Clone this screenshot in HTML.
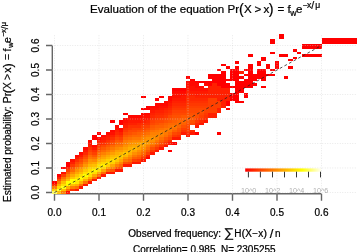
<!DOCTYPE html>
<html><head><meta charset="utf-8"><title>Evaluation of the equation</title>
<style>
html,body{margin:0;padding:0;background:#fff;}
body{width:357px;height:252px;overflow:hidden;}
svg{display:block;}
text{font-family:"Liberation Sans",sans-serif;fill:#000;stroke:#000;stroke-width:0.22px;}
.b{font-size:10px;}
.t{font-size:11.6px;}
.s{font-size:8.6px;}
.p{font-size:14.3px;}
.lg text{font-size:7.2px;fill:#b0b0b0;stroke:none;}
</style></head><body>
<svg width="357" height="252" viewBox="0 0 357 252">
<rect width="357" height="252" fill="#fff"/>
<!-- axes -->
<g stroke="#666" stroke-width="1.4" fill="none">
<path d="M54.5 193.8H321.5M54.5 193.8V200.7M99 193.8V200.7M143.5 193.8V200.7M188 193.8V200.7M232.5 193.8V200.7M277 193.8V200.7M321.5 193.8V200.7"/>
<path d="M52.3 192.5V45.5M52.3 192.5H46M52.3 168H46M52.3 143.5H46M52.3 119H46M52.3 94.5H46M52.3 70H46M52.3 45.5H46"/>
</g>
<g shape-rendering="crispEdges">
<rect x="52.27" y="191.28" width="4.45" height="2.45" fill="#FFFF55"/>
<rect x="52.27" y="188.82" width="4.45" height="2.45" fill="#FFCF00"/>
<rect x="52.27" y="186.38" width="4.45" height="2.45" fill="#FF8000"/>
<rect x="52.27" y="183.92" width="4.45" height="2.45" fill="#FF3000"/>
<rect x="52.27" y="181.47" width="4.45" height="2.45" fill="#FF0000"/>
<rect x="56.73" y="191.28" width="4.45" height="2.45" fill="#FFBF00"/>
<rect x="56.73" y="188.82" width="4.45" height="2.45" fill="#FFFF40"/>
<rect x="56.73" y="186.38" width="4.45" height="2.45" fill="#FFDF00"/>
<rect x="56.73" y="183.92" width="4.45" height="2.45" fill="#FFAF00"/>
<rect x="56.73" y="181.47" width="4.45" height="2.45" fill="#FF8000"/>
<rect x="56.73" y="179.03" width="4.45" height="2.45" fill="#FF5000"/>
<rect x="56.73" y="176.57" width="4.45" height="2.45" fill="#FF2000"/>
<rect x="56.73" y="174.12" width="4.45" height="2.45" fill="#FF0000"/>
<rect x="61.17" y="191.28" width="4.45" height="2.45" fill="#FF8000"/>
<rect x="61.17" y="188.82" width="4.45" height="2.45" fill="#FFBF00"/>
<rect x="61.17" y="186.38" width="4.45" height="2.45" fill="#FFFF15"/>
<rect x="61.17" y="183.92" width="4.45" height="2.45" fill="#FFDF00"/>
<rect x="61.17" y="181.47" width="4.45" height="2.45" fill="#FFBF00"/>
<rect x="61.17" y="179.03" width="4.45" height="2.45" fill="#FF9000"/>
<rect x="61.17" y="176.57" width="4.45" height="2.45" fill="#FF7000"/>
<rect x="61.17" y="174.12" width="4.45" height="2.45" fill="#FF4000"/>
<rect x="61.17" y="171.67" width="4.45" height="2.45" fill="#FF1000"/>
<rect x="61.17" y="166.77" width="4.45" height="2.45" fill="#FF0000"/>
<rect x="65.62" y="191.28" width="4.45" height="2.45" fill="#FF1000"/>
<rect x="65.62" y="188.82" width="4.45" height="2.45" fill="#FF7000"/>
<rect x="65.62" y="186.38" width="4.45" height="2.45" fill="#FFAF00"/>
<rect x="65.62" y="181.47" width="4.45" height="4.9" fill="#FFFF00"/>
<rect x="65.62" y="179.03" width="4.45" height="2.45" fill="#FFBF00"/>
<rect x="65.62" y="176.57" width="4.45" height="2.45" fill="#FF9F00"/>
<rect x="65.62" y="174.12" width="4.45" height="2.45" fill="#FF8000"/>
<rect x="65.62" y="171.67" width="4.45" height="2.45" fill="#FF6000"/>
<rect x="65.62" y="169.22" width="4.45" height="2.45" fill="#FF4000"/>
<rect x="65.62" y="166.77" width="4.45" height="2.45" fill="#FF2000"/>
<rect x="65.62" y="161.88" width="4.45" height="4.9" fill="#FF0000"/>
<rect x="70.08" y="188.82" width="4.45" height="2.45" fill="#FF3000"/>
<rect x="70.08" y="186.38" width="4.45" height="2.45" fill="#FF8000"/>
<rect x="70.08" y="183.92" width="4.45" height="2.45" fill="#FFBF00"/>
<rect x="70.08" y="179.03" width="4.45" height="4.9" fill="#FFFF00"/>
<rect x="70.08" y="176.57" width="4.45" height="2.45" fill="#FFC700"/>
<rect x="70.08" y="174.12" width="4.45" height="2.45" fill="#FFA700"/>
<rect x="70.08" y="171.67" width="4.45" height="2.45" fill="#FF8800"/>
<rect x="70.08" y="169.22" width="4.45" height="2.45" fill="#FF6800"/>
<rect x="70.08" y="166.77" width="4.45" height="2.45" fill="#FF5000"/>
<rect x="70.08" y="164.32" width="4.45" height="2.45" fill="#FF3800"/>
<rect x="70.08" y="161.88" width="4.45" height="2.45" fill="#FF2000"/>
<rect x="70.08" y="159.42" width="4.45" height="2.45" fill="#FF1000"/>
<rect x="74.53" y="188.82" width="4.45" height="2.45" fill="#FF1800"/>
<rect x="74.53" y="186.38" width="4.45" height="2.45" fill="#FF7000"/>
<rect x="74.53" y="183.92" width="4.45" height="2.45" fill="#FFAF00"/>
<rect x="74.53" y="181.47" width="4.45" height="2.45" fill="#FFE700"/>
<rect x="74.53" y="179.03" width="4.45" height="2.45" fill="#FFFF00"/>
<rect x="74.53" y="176.57" width="4.45" height="2.45" fill="#FFDF00"/>
<rect x="74.53" y="174.12" width="4.45" height="2.45" fill="#FFC700"/>
<rect x="74.53" y="171.67" width="4.45" height="2.45" fill="#FFA700"/>
<rect x="74.53" y="169.22" width="4.45" height="2.45" fill="#FF9000"/>
<rect x="74.53" y="166.77" width="4.45" height="2.45" fill="#FF7800"/>
<rect x="74.53" y="164.32" width="4.45" height="2.45" fill="#FF5800"/>
<rect x="74.53" y="161.88" width="4.45" height="2.45" fill="#FF4800"/>
<rect x="74.53" y="159.42" width="4.45" height="2.45" fill="#FF3000"/>
<rect x="74.53" y="156.97" width="4.45" height="2.45" fill="#FF1800"/>
<rect x="74.53" y="154.52" width="4.45" height="2.45" fill="#FF0800"/>
<rect x="78.97" y="186.38" width="4.45" height="2.45" fill="#FF1800"/>
<rect x="78.97" y="183.92" width="4.45" height="2.45" fill="#FF7000"/>
<rect x="78.97" y="181.47" width="4.45" height="2.45" fill="#FFAF00"/>
<rect x="78.97" y="179.03" width="4.45" height="2.45" fill="#FFE700"/>
<rect x="78.97" y="176.57" width="4.45" height="2.45" fill="#FFFF00"/>
<rect x="78.97" y="174.12" width="4.45" height="2.45" fill="#FFDF00"/>
<rect x="78.97" y="171.67" width="4.45" height="2.45" fill="#FFBF00"/>
<rect x="78.97" y="169.22" width="4.45" height="2.45" fill="#FFA700"/>
<rect x="78.97" y="166.77" width="4.45" height="2.45" fill="#FF9000"/>
<rect x="78.97" y="164.32" width="4.45" height="2.45" fill="#FF7000"/>
<rect x="78.97" y="161.88" width="4.45" height="2.45" fill="#FF5800"/>
<rect x="78.97" y="159.42" width="4.45" height="2.45" fill="#FF4800"/>
<rect x="78.97" y="156.97" width="4.45" height="2.45" fill="#FF3000"/>
<rect x="78.97" y="154.52" width="4.45" height="2.45" fill="#FF1800"/>
<rect x="78.97" y="152.07" width="4.45" height="2.45" fill="#FF0800"/>
<rect x="83.42" y="183.92" width="4.45" height="2.45" fill="#FF1800"/>
<rect x="83.42" y="181.47" width="4.45" height="2.45" fill="#FF7000"/>
<rect x="83.42" y="179.03" width="4.45" height="2.45" fill="#FFAF00"/>
<rect x="83.42" y="176.57" width="4.45" height="2.45" fill="#FFDF00"/>
<rect x="83.42" y="174.12" width="4.45" height="2.45" fill="#FFFF00"/>
<rect x="83.42" y="171.67" width="4.45" height="2.45" fill="#FFDF00"/>
<rect x="83.42" y="169.22" width="4.45" height="2.45" fill="#FFC700"/>
<rect x="83.42" y="166.77" width="4.45" height="2.45" fill="#FFAF00"/>
<rect x="83.42" y="164.32" width="4.45" height="2.45" fill="#FF9700"/>
<rect x="83.42" y="161.88" width="4.45" height="2.45" fill="#FF8000"/>
<rect x="83.42" y="159.42" width="4.45" height="2.45" fill="#FF6800"/>
<rect x="83.42" y="156.97" width="4.45" height="2.45" fill="#FF5000"/>
<rect x="83.42" y="154.52" width="4.45" height="2.45" fill="#FF4000"/>
<rect x="83.42" y="152.07" width="4.45" height="2.45" fill="#FF2800"/>
<rect x="83.42" y="149.62" width="4.45" height="2.45" fill="#FF1800"/>
<rect x="83.42" y="147.17" width="4.45" height="2.45" fill="#FF0800"/>
<rect x="87.88" y="181.47" width="4.45" height="2.45" fill="#FF1800"/>
<rect x="87.88" y="179.03" width="4.45" height="2.45" fill="#FF7000"/>
<rect x="87.88" y="176.57" width="4.45" height="2.45" fill="#FFAF00"/>
<rect x="87.88" y="174.12" width="4.45" height="2.45" fill="#FFDF00"/>
<rect x="87.88" y="171.67" width="4.45" height="2.45" fill="#FFF700"/>
<rect x="87.88" y="169.22" width="4.45" height="2.45" fill="#FFDF00"/>
<rect x="87.88" y="166.77" width="4.45" height="2.45" fill="#FFCF00"/>
<rect x="87.88" y="164.32" width="4.45" height="2.45" fill="#FFB700"/>
<rect x="87.88" y="161.88" width="4.45" height="2.45" fill="#FF9F00"/>
<rect x="87.88" y="159.42" width="4.45" height="2.45" fill="#FF9000"/>
<rect x="87.88" y="156.97" width="4.45" height="2.45" fill="#FF7800"/>
<rect x="87.88" y="154.52" width="4.45" height="2.45" fill="#FF6800"/>
<rect x="87.88" y="152.07" width="4.45" height="2.45" fill="#FF5000"/>
<rect x="87.88" y="149.62" width="4.45" height="2.45" fill="#FF4000"/>
<rect x="87.88" y="147.17" width="4.45" height="2.45" fill="#FF3000"/>
<rect x="87.88" y="144.72" width="4.45" height="2.45" fill="#FF2000"/>
<rect x="87.88" y="142.27" width="4.45" height="2.45" fill="#FF1000"/>
<rect x="87.88" y="139.82" width="4.45" height="2.45" fill="#FF0800"/>
<rect x="92.33" y="179.03" width="4.45" height="2.45" fill="#FF1800"/>
<rect x="92.33" y="176.57" width="4.45" height="2.45" fill="#FF7000"/>
<rect x="92.33" y="174.12" width="4.45" height="2.45" fill="#FFA700"/>
<rect x="92.33" y="171.67" width="4.45" height="2.45" fill="#FFDF00"/>
<rect x="92.33" y="169.22" width="4.45" height="2.45" fill="#FFF700"/>
<rect x="92.33" y="166.77" width="4.45" height="2.45" fill="#FFD700"/>
<rect x="92.33" y="164.32" width="4.45" height="2.45" fill="#FFBF00"/>
<rect x="92.33" y="161.88" width="4.45" height="2.45" fill="#FFA700"/>
<rect x="92.33" y="159.42" width="4.45" height="2.45" fill="#FF8800"/>
<rect x="92.33" y="156.97" width="4.45" height="2.45" fill="#FF7000"/>
<rect x="92.33" y="154.52" width="4.45" height="2.45" fill="#FF5800"/>
<rect x="92.33" y="152.07" width="4.45" height="2.45" fill="#FF4000"/>
<rect x="92.33" y="149.62" width="4.45" height="2.45" fill="#FF3000"/>
<rect x="92.33" y="147.17" width="4.45" height="2.45" fill="#FF1800"/>
<rect x="92.33" y="144.72" width="4.45" height="2.45" fill="#FF0800"/>
<rect x="92.33" y="134.92" width="4.45" height="4.9" fill="#FF0000"/>
<rect x="96.78" y="176.57" width="4.45" height="2.45" fill="#FF1800"/>
<rect x="96.78" y="174.12" width="4.45" height="2.45" fill="#FF7000"/>
<rect x="96.78" y="171.67" width="4.45" height="2.45" fill="#FFA700"/>
<rect x="96.78" y="169.22" width="4.45" height="2.45" fill="#FFDF00"/>
<rect x="96.78" y="166.77" width="4.45" height="2.45" fill="#FFF700"/>
<rect x="96.78" y="164.32" width="4.45" height="2.45" fill="#FFDF00"/>
<rect x="96.78" y="161.88" width="4.45" height="2.45" fill="#FFC700"/>
<rect x="96.78" y="159.42" width="4.45" height="2.45" fill="#FFAF00"/>
<rect x="96.78" y="156.97" width="4.45" height="2.45" fill="#FF9700"/>
<rect x="96.78" y="154.52" width="4.45" height="2.45" fill="#FF8000"/>
<rect x="96.78" y="152.07" width="4.45" height="2.45" fill="#FF7000"/>
<rect x="96.78" y="149.62" width="4.45" height="2.45" fill="#FF5800"/>
<rect x="96.78" y="147.17" width="4.45" height="2.45" fill="#FF4800"/>
<rect x="96.78" y="144.72" width="4.45" height="2.45" fill="#FF3800"/>
<rect x="96.78" y="142.27" width="4.45" height="2.45" fill="#FF2800"/>
<rect x="96.78" y="139.82" width="4.45" height="2.45" fill="#FF1800"/>
<rect x="96.78" y="137.38" width="4.45" height="2.45" fill="#FF0800"/>
<rect x="96.78" y="132.47" width="4.45" height="2.45" fill="#FF0000"/>
<rect x="101.22" y="174.12" width="4.45" height="2.45" fill="#FF1800"/>
<rect x="101.22" y="171.67" width="4.45" height="2.45" fill="#FF6800"/>
<rect x="101.22" y="169.22" width="4.45" height="2.45" fill="#FFA700"/>
<rect x="101.22" y="166.77" width="4.45" height="2.45" fill="#FFD700"/>
<rect x="101.22" y="164.32" width="4.45" height="2.45" fill="#FFEF00"/>
<rect x="101.22" y="161.88" width="4.45" height="2.45" fill="#FFD700"/>
<rect x="101.22" y="159.42" width="4.45" height="2.45" fill="#FFBF00"/>
<rect x="101.22" y="156.97" width="4.45" height="2.45" fill="#FFA700"/>
<rect x="101.22" y="154.52" width="4.45" height="2.45" fill="#FF9700"/>
<rect x="101.22" y="152.07" width="4.45" height="2.45" fill="#FF8000"/>
<rect x="101.22" y="149.62" width="4.45" height="2.45" fill="#FF6800"/>
<rect x="101.22" y="147.17" width="4.45" height="2.45" fill="#FF5800"/>
<rect x="101.22" y="144.72" width="4.45" height="2.45" fill="#FF4800"/>
<rect x="101.22" y="142.27" width="4.45" height="2.45" fill="#FF3000"/>
<rect x="101.22" y="139.82" width="4.45" height="2.45" fill="#FF2000"/>
<rect x="101.22" y="137.38" width="4.45" height="2.45" fill="#FF1800"/>
<rect x="101.22" y="134.92" width="4.45" height="2.45" fill="#FF0800"/>
<rect x="105.68" y="171.67" width="4.45" height="2.45" fill="#FF1800"/>
<rect x="105.68" y="169.22" width="4.45" height="2.45" fill="#FF6800"/>
<rect x="105.68" y="166.77" width="4.45" height="2.45" fill="#FF9F00"/>
<rect x="105.68" y="164.32" width="4.45" height="2.45" fill="#FFCF00"/>
<rect x="105.68" y="161.88" width="4.45" height="2.45" fill="#FFE700"/>
<rect x="105.68" y="159.42" width="4.45" height="2.45" fill="#FFCF00"/>
<rect x="105.68" y="156.97" width="4.45" height="2.45" fill="#FFB700"/>
<rect x="105.68" y="154.52" width="4.45" height="2.45" fill="#FFA700"/>
<rect x="105.68" y="152.07" width="4.45" height="2.45" fill="#FF9000"/>
<rect x="105.68" y="149.62" width="4.45" height="2.45" fill="#FF7800"/>
<rect x="105.68" y="147.17" width="4.45" height="2.45" fill="#FF6800"/>
<rect x="105.68" y="144.72" width="4.45" height="2.45" fill="#FF5800"/>
<rect x="105.68" y="142.27" width="4.45" height="2.45" fill="#FF4000"/>
<rect x="105.68" y="139.82" width="4.45" height="2.45" fill="#FF3000"/>
<rect x="105.68" y="137.38" width="4.45" height="2.45" fill="#FF2000"/>
<rect x="105.68" y="134.92" width="4.45" height="2.45" fill="#FF1800"/>
<rect x="105.68" y="132.47" width="4.45" height="2.45" fill="#FF0800"/>
<rect x="110.12" y="171.67" width="4.45" height="2.45" fill="#FF1800"/>
<rect x="110.12" y="169.22" width="4.45" height="2.45" fill="#FF5800"/>
<rect x="110.12" y="166.77" width="4.45" height="2.45" fill="#FF8800"/>
<rect x="110.12" y="164.32" width="4.45" height="2.45" fill="#FFA700"/>
<rect x="110.12" y="161.88" width="4.45" height="2.45" fill="#FFCF00"/>
<rect x="110.12" y="159.42" width="4.45" height="2.45" fill="#FFDF00"/>
<rect x="110.12" y="156.97" width="4.45" height="2.45" fill="#FFC700"/>
<rect x="110.12" y="154.52" width="4.45" height="2.45" fill="#FFB700"/>
<rect x="110.12" y="152.07" width="4.45" height="2.45" fill="#FF9F00"/>
<rect x="110.12" y="149.62" width="4.45" height="2.45" fill="#FF8800"/>
<rect x="110.12" y="147.17" width="4.45" height="2.45" fill="#FF7800"/>
<rect x="110.12" y="144.72" width="4.45" height="2.45" fill="#FF6800"/>
<rect x="110.12" y="142.27" width="4.45" height="2.45" fill="#FF5000"/>
<rect x="110.12" y="139.82" width="4.45" height="2.45" fill="#FF4000"/>
<rect x="110.12" y="137.38" width="4.45" height="2.45" fill="#FF3000"/>
<rect x="110.12" y="134.92" width="4.45" height="2.45" fill="#FF2000"/>
<rect x="110.12" y="132.47" width="4.45" height="2.45" fill="#FF1000"/>
<rect x="110.12" y="130.02" width="4.45" height="2.45" fill="#FF0800"/>
<rect x="110.12" y="120.22" width="4.45" height="2.45" fill="#FF0000"/>
<rect x="114.58" y="169.22" width="4.45" height="2.45" fill="#FF1800"/>
<rect x="114.58" y="166.77" width="4.45" height="2.45" fill="#FF5800"/>
<rect x="114.58" y="164.32" width="4.45" height="2.45" fill="#FF8000"/>
<rect x="114.58" y="161.88" width="4.45" height="2.45" fill="#FFA700"/>
<rect x="114.58" y="159.42" width="4.45" height="2.45" fill="#FFC700"/>
<rect x="114.58" y="156.97" width="4.45" height="2.45" fill="#FFD700"/>
<rect x="114.58" y="154.52" width="4.45" height="2.45" fill="#FFBF00"/>
<rect x="114.58" y="152.07" width="4.45" height="2.45" fill="#FFAF00"/>
<rect x="114.58" y="149.62" width="4.45" height="2.45" fill="#FF9F00"/>
<rect x="114.58" y="147.17" width="4.45" height="2.45" fill="#FF8800"/>
<rect x="114.58" y="144.72" width="4.45" height="2.45" fill="#FF7800"/>
<rect x="114.58" y="142.27" width="4.45" height="2.45" fill="#FF6800"/>
<rect x="114.58" y="139.82" width="4.45" height="2.45" fill="#FF5800"/>
<rect x="114.58" y="137.38" width="4.45" height="2.45" fill="#FF4800"/>
<rect x="114.58" y="134.92" width="4.45" height="2.45" fill="#FF3800"/>
<rect x="114.58" y="132.47" width="4.45" height="2.45" fill="#FF2800"/>
<rect x="114.58" y="130.02" width="4.45" height="2.45" fill="#FF2000"/>
<rect x="114.58" y="127.57" width="4.45" height="2.45" fill="#FF1000"/>
<rect x="114.58" y="125.12" width="4.45" height="2.45" fill="#FF0800"/>
<rect x="119.03" y="169.22" width="4.45" height="2.45" fill="#FF1800"/>
<rect x="119.03" y="166.77" width="4.45" height="2.45" fill="#FF4800"/>
<rect x="119.03" y="164.32" width="4.45" height="2.45" fill="#FF6800"/>
<rect x="119.03" y="161.88" width="4.45" height="2.45" fill="#FF8800"/>
<rect x="119.03" y="159.42" width="4.45" height="2.45" fill="#FFA700"/>
<rect x="119.03" y="156.97" width="4.45" height="2.45" fill="#FFBF00"/>
<rect x="119.03" y="154.52" width="4.45" height="2.45" fill="#FFCF00"/>
<rect x="119.03" y="152.07" width="4.45" height="2.45" fill="#FFB700"/>
<rect x="119.03" y="149.62" width="4.45" height="2.45" fill="#FF9F00"/>
<rect x="119.03" y="147.17" width="4.45" height="2.45" fill="#FF9000"/>
<rect x="119.03" y="144.72" width="4.45" height="2.45" fill="#FF7800"/>
<rect x="119.03" y="142.27" width="4.45" height="2.45" fill="#FF6800"/>
<rect x="119.03" y="139.82" width="4.45" height="2.45" fill="#FF5000"/>
<rect x="119.03" y="137.38" width="4.45" height="2.45" fill="#FF4000"/>
<rect x="119.03" y="134.92" width="4.45" height="2.45" fill="#FF3000"/>
<rect x="119.03" y="132.47" width="4.45" height="2.45" fill="#FF2000"/>
<rect x="119.03" y="130.02" width="4.45" height="2.45" fill="#FF1000"/>
<rect x="119.03" y="127.57" width="4.45" height="2.45" fill="#FF0800"/>
<rect x="119.03" y="120.22" width="4.45" height="4.9" fill="#FF0000"/>
<rect x="123.47" y="164.32" width="4.45" height="2.45" fill="#FF1800"/>
<rect x="123.47" y="161.88" width="4.45" height="2.45" fill="#FF5000"/>
<rect x="123.47" y="159.42" width="4.45" height="2.45" fill="#FF7800"/>
<rect x="123.47" y="156.97" width="4.45" height="2.45" fill="#FF9700"/>
<rect x="123.47" y="154.52" width="4.45" height="2.45" fill="#FFB700"/>
<rect x="123.47" y="152.07" width="4.45" height="2.45" fill="#FFC700"/>
<rect x="123.47" y="149.62" width="4.45" height="2.45" fill="#FFAF00"/>
<rect x="123.47" y="147.17" width="4.45" height="2.45" fill="#FF9F00"/>
<rect x="123.47" y="144.72" width="4.45" height="2.45" fill="#FF9000"/>
<rect x="123.47" y="142.27" width="4.45" height="2.45" fill="#FF8000"/>
<rect x="123.47" y="139.82" width="4.45" height="2.45" fill="#FF7800"/>
<rect x="123.47" y="137.38" width="4.45" height="2.45" fill="#FF6800"/>
<rect x="123.47" y="134.92" width="4.45" height="2.45" fill="#FF5800"/>
<rect x="123.47" y="132.47" width="4.45" height="2.45" fill="#FF4800"/>
<rect x="123.47" y="130.02" width="4.45" height="2.45" fill="#FF3800"/>
<rect x="123.47" y="127.57" width="4.45" height="2.45" fill="#FF3000"/>
<rect x="123.47" y="125.12" width="4.45" height="2.45" fill="#FF2000"/>
<rect x="123.47" y="122.67" width="4.45" height="2.45" fill="#FF1800"/>
<rect x="123.47" y="120.22" width="4.45" height="2.45" fill="#FF1000"/>
<rect x="123.47" y="117.77" width="4.45" height="2.45" fill="#FF0800"/>
<rect x="123.47" y="112.87" width="4.45" height="2.45" fill="#FF0000"/>
<rect x="127.93" y="164.32" width="4.45" height="2.45" fill="#FF1800"/>
<rect x="127.93" y="161.88" width="4.45" height="2.45" fill="#FF4800"/>
<rect x="127.93" y="159.42" width="4.45" height="2.45" fill="#FF6800"/>
<rect x="127.93" y="156.97" width="4.45" height="2.45" fill="#FF8000"/>
<rect x="127.93" y="154.52" width="4.45" height="2.45" fill="#FF9700"/>
<rect x="127.93" y="152.07" width="4.45" height="2.45" fill="#FFAF00"/>
<rect x="127.93" y="149.62" width="4.45" height="2.45" fill="#FFBF00"/>
<rect x="127.93" y="147.17" width="4.45" height="2.45" fill="#FFAF00"/>
<rect x="127.93" y="144.72" width="4.45" height="2.45" fill="#FF9F00"/>
<rect x="127.93" y="142.27" width="4.45" height="2.45" fill="#FF9000"/>
<rect x="127.93" y="139.82" width="4.45" height="2.45" fill="#FF8000"/>
<rect x="127.93" y="137.38" width="4.45" height="2.45" fill="#FF7000"/>
<rect x="127.93" y="134.92" width="4.45" height="2.45" fill="#FF6000"/>
<rect x="127.93" y="132.47" width="4.45" height="2.45" fill="#FF5000"/>
<rect x="127.93" y="130.02" width="4.45" height="2.45" fill="#FF4800"/>
<rect x="127.93" y="127.57" width="4.45" height="2.45" fill="#FF3800"/>
<rect x="127.93" y="125.12" width="4.45" height="2.45" fill="#FF3000"/>
<rect x="127.93" y="122.67" width="4.45" height="2.45" fill="#FF2000"/>
<rect x="127.93" y="120.22" width="4.45" height="2.45" fill="#FF1800"/>
<rect x="127.93" y="117.77" width="4.45" height="2.45" fill="#FF1000"/>
<rect x="127.93" y="115.32" width="4.45" height="2.45" fill="#FF0800"/>
<rect x="132.38" y="161.88" width="4.45" height="2.45" fill="#FF1800"/>
<rect x="132.38" y="159.42" width="4.45" height="2.45" fill="#FF4000"/>
<rect x="132.38" y="156.97" width="4.45" height="2.45" fill="#FF6000"/>
<rect x="132.38" y="154.52" width="4.45" height="2.45" fill="#FF7800"/>
<rect x="132.38" y="152.07" width="4.45" height="2.45" fill="#FF9000"/>
<rect x="132.38" y="149.62" width="4.45" height="2.45" fill="#FFA700"/>
<rect x="132.38" y="147.17" width="4.45" height="2.45" fill="#FFB700"/>
<rect x="132.38" y="144.72" width="4.45" height="2.45" fill="#FFA700"/>
<rect x="132.38" y="142.27" width="4.45" height="2.45" fill="#FF9700"/>
<rect x="132.38" y="139.82" width="4.45" height="2.45" fill="#FF8800"/>
<rect x="132.38" y="137.38" width="4.45" height="2.45" fill="#FF7800"/>
<rect x="132.38" y="134.92" width="4.45" height="2.45" fill="#FF6800"/>
<rect x="132.38" y="132.47" width="4.45" height="2.45" fill="#FF5800"/>
<rect x="132.38" y="130.02" width="4.45" height="2.45" fill="#FF4800"/>
<rect x="132.38" y="127.57" width="4.45" height="2.45" fill="#FF4000"/>
<rect x="132.38" y="125.12" width="4.45" height="2.45" fill="#FF3000"/>
<rect x="132.38" y="122.67" width="4.45" height="2.45" fill="#FF2000"/>
<rect x="132.38" y="120.22" width="4.45" height="2.45" fill="#FF1800"/>
<rect x="132.38" y="117.77" width="4.45" height="2.45" fill="#FF1000"/>
<rect x="132.38" y="115.32" width="4.45" height="2.45" fill="#FF0800"/>
<rect x="136.82" y="161.88" width="4.45" height="2.45" fill="#FF1800"/>
<rect x="136.82" y="159.42" width="4.45" height="2.45" fill="#FF3800"/>
<rect x="136.82" y="156.97" width="4.45" height="2.45" fill="#FF5800"/>
<rect x="136.82" y="154.52" width="4.45" height="2.45" fill="#FF6800"/>
<rect x="136.82" y="152.07" width="4.45" height="2.45" fill="#FF8000"/>
<rect x="136.82" y="149.62" width="4.45" height="2.45" fill="#FF9000"/>
<rect x="136.82" y="147.17" width="4.45" height="2.45" fill="#FFA700"/>
<rect x="136.82" y="144.72" width="4.45" height="2.45" fill="#FFAF00"/>
<rect x="136.82" y="142.27" width="4.45" height="2.45" fill="#FF9F00"/>
<rect x="136.82" y="139.82" width="4.45" height="2.45" fill="#FF8800"/>
<rect x="136.82" y="137.38" width="4.45" height="2.45" fill="#FF7800"/>
<rect x="136.82" y="134.92" width="4.45" height="2.45" fill="#FF6800"/>
<rect x="136.82" y="132.47" width="4.45" height="2.45" fill="#FF6000"/>
<rect x="136.82" y="130.02" width="4.45" height="2.45" fill="#FF5000"/>
<rect x="136.82" y="127.57" width="4.45" height="2.45" fill="#FF4000"/>
<rect x="136.82" y="125.12" width="4.45" height="2.45" fill="#FF3000"/>
<rect x="136.82" y="122.67" width="4.45" height="2.45" fill="#FF2800"/>
<rect x="136.82" y="120.22" width="4.45" height="2.45" fill="#FF1800"/>
<rect x="136.82" y="117.77" width="4.45" height="2.45" fill="#FF1000"/>
<rect x="136.82" y="115.32" width="4.45" height="2.45" fill="#FF0800"/>
<rect x="141.28" y="159.42" width="4.45" height="2.45" fill="#FF1800"/>
<rect x="141.28" y="156.97" width="4.45" height="2.45" fill="#FF3800"/>
<rect x="141.28" y="154.52" width="4.45" height="2.45" fill="#FF5000"/>
<rect x="141.28" y="152.07" width="4.45" height="2.45" fill="#FF6800"/>
<rect x="141.28" y="149.62" width="4.45" height="2.45" fill="#FF7800"/>
<rect x="141.28" y="147.17" width="4.45" height="2.45" fill="#FF9000"/>
<rect x="141.28" y="144.72" width="4.45" height="2.45" fill="#FF9F00"/>
<rect x="141.28" y="142.27" width="4.45" height="2.45" fill="#FFA700"/>
<rect x="141.28" y="139.82" width="4.45" height="2.45" fill="#FF9700"/>
<rect x="141.28" y="137.38" width="4.45" height="2.45" fill="#FF8800"/>
<rect x="141.28" y="134.92" width="4.45" height="2.45" fill="#FF7800"/>
<rect x="141.28" y="132.47" width="4.45" height="2.45" fill="#FF6800"/>
<rect x="141.28" y="130.02" width="4.45" height="2.45" fill="#FF5800"/>
<rect x="141.28" y="127.57" width="4.45" height="2.45" fill="#FF4800"/>
<rect x="141.28" y="125.12" width="4.45" height="2.45" fill="#FF4000"/>
<rect x="141.28" y="122.67" width="4.45" height="2.45" fill="#FF3000"/>
<rect x="141.28" y="120.22" width="4.45" height="2.45" fill="#FF2000"/>
<rect x="141.28" y="117.77" width="4.45" height="2.45" fill="#FF1800"/>
<rect x="141.28" y="115.32" width="4.45" height="2.45" fill="#FF1000"/>
<rect x="141.28" y="112.87" width="4.45" height="2.45" fill="#FF0800"/>
<rect x="141.28" y="107.97" width="4.45" height="2.45" fill="#FF0000"/>
<rect x="141.28" y="95.72" width="4.45" height="2.45" fill="#FF0000"/>
<rect x="145.72" y="156.97" width="4.45" height="2.45" fill="#FF0000"/>
<rect x="145.72" y="154.52" width="4.45" height="2.45" fill="#FF1800"/>
<rect x="145.72" y="152.07" width="4.45" height="2.45" fill="#FF4000"/>
<rect x="145.72" y="149.62" width="4.45" height="2.45" fill="#FF5800"/>
<rect x="145.72" y="147.17" width="4.45" height="2.45" fill="#FF7000"/>
<rect x="145.72" y="144.72" width="4.45" height="2.45" fill="#FF8000"/>
<rect x="145.72" y="142.27" width="4.45" height="2.45" fill="#FF9700"/>
<rect x="145.72" y="139.82" width="4.45" height="2.45" fill="#FF9F00"/>
<rect x="145.72" y="137.38" width="4.45" height="2.45" fill="#FF9000"/>
<rect x="145.72" y="134.92" width="4.45" height="2.45" fill="#FF8000"/>
<rect x="145.72" y="132.47" width="4.45" height="2.45" fill="#FF7000"/>
<rect x="145.72" y="130.02" width="4.45" height="2.45" fill="#FF6000"/>
<rect x="145.72" y="127.57" width="4.45" height="2.45" fill="#FF5000"/>
<rect x="145.72" y="125.12" width="4.45" height="2.45" fill="#FF4000"/>
<rect x="145.72" y="122.67" width="4.45" height="2.45" fill="#FF3000"/>
<rect x="145.72" y="120.22" width="4.45" height="2.45" fill="#FF2800"/>
<rect x="145.72" y="117.77" width="4.45" height="2.45" fill="#FF1800"/>
<rect x="145.72" y="115.32" width="4.45" height="2.45" fill="#FF1000"/>
<rect x="145.72" y="112.87" width="4.45" height="2.45" fill="#FF0800"/>
<rect x="145.72" y="105.52" width="4.45" height="4.9" fill="#FF0000"/>
<rect x="150.18" y="152.07" width="4.45" height="2.45" fill="#FF1800"/>
<rect x="150.18" y="149.62" width="4.45" height="2.45" fill="#FF3800"/>
<rect x="150.18" y="147.17" width="4.45" height="2.45" fill="#FF5000"/>
<rect x="150.18" y="144.72" width="4.45" height="2.45" fill="#FF6800"/>
<rect x="150.18" y="142.27" width="4.45" height="2.45" fill="#FF8000"/>
<rect x="150.18" y="139.82" width="4.45" height="2.45" fill="#FF9000"/>
<rect x="150.18" y="137.38" width="4.45" height="2.45" fill="#FF9700"/>
<rect x="150.18" y="134.92" width="4.45" height="2.45" fill="#FF8800"/>
<rect x="150.18" y="132.47" width="4.45" height="2.45" fill="#FF8000"/>
<rect x="150.18" y="130.02" width="4.45" height="2.45" fill="#FF7000"/>
<rect x="150.18" y="127.57" width="4.45" height="2.45" fill="#FF6000"/>
<rect x="150.18" y="125.12" width="4.45" height="2.45" fill="#FF5800"/>
<rect x="150.18" y="122.67" width="4.45" height="2.45" fill="#FF4800"/>
<rect x="150.18" y="120.22" width="4.45" height="2.45" fill="#FF4000"/>
<rect x="150.18" y="117.77" width="4.45" height="2.45" fill="#FF3000"/>
<rect x="150.18" y="115.32" width="4.45" height="2.45" fill="#FF2800"/>
<rect x="150.18" y="112.87" width="4.45" height="2.45" fill="#FF2000"/>
<rect x="150.18" y="110.42" width="4.45" height="2.45" fill="#FF1800"/>
<rect x="150.18" y="107.97" width="4.45" height="2.45" fill="#FF1000"/>
<rect x="150.18" y="105.52" width="4.45" height="2.45" fill="#FF0800"/>
<rect x="154.62" y="149.62" width="4.45" height="2.45" fill="#FF1800"/>
<rect x="154.62" y="147.17" width="4.45" height="2.45" fill="#FF3800"/>
<rect x="154.62" y="144.72" width="4.45" height="2.45" fill="#FF5000"/>
<rect x="154.62" y="142.27" width="4.45" height="2.45" fill="#FF6800"/>
<rect x="154.62" y="139.82" width="4.45" height="2.45" fill="#FF7800"/>
<rect x="154.62" y="137.38" width="4.45" height="2.45" fill="#FF8800"/>
<rect x="154.62" y="134.92" width="4.45" height="2.45" fill="#FF9000"/>
<rect x="154.62" y="132.47" width="4.45" height="2.45" fill="#FF8000"/>
<rect x="154.62" y="130.02" width="4.45" height="2.45" fill="#FF7800"/>
<rect x="154.62" y="127.57" width="4.45" height="2.45" fill="#FF6800"/>
<rect x="154.62" y="125.12" width="4.45" height="2.45" fill="#FF6000"/>
<rect x="154.62" y="122.67" width="4.45" height="2.45" fill="#FF5000"/>
<rect x="154.62" y="120.22" width="4.45" height="2.45" fill="#FF4800"/>
<rect x="154.62" y="117.77" width="4.45" height="2.45" fill="#FF3800"/>
<rect x="154.62" y="115.32" width="4.45" height="2.45" fill="#FF3000"/>
<rect x="154.62" y="112.87" width="4.45" height="2.45" fill="#FF2800"/>
<rect x="154.62" y="110.42" width="4.45" height="2.45" fill="#FF2000"/>
<rect x="154.62" y="107.97" width="4.45" height="2.45" fill="#FF1000"/>
<rect x="154.62" y="103.07" width="4.45" height="4.9" fill="#FF0800"/>
<rect x="154.62" y="98.17" width="4.45" height="2.45" fill="#FF0000"/>
<rect x="159.08" y="147.17" width="4.45" height="2.45" fill="#FF1800"/>
<rect x="159.08" y="144.72" width="4.45" height="2.45" fill="#FF3800"/>
<rect x="159.08" y="142.27" width="4.45" height="2.45" fill="#FF5000"/>
<rect x="159.08" y="139.82" width="4.45" height="2.45" fill="#FF6000"/>
<rect x="159.08" y="137.38" width="4.45" height="2.45" fill="#FF7000"/>
<rect x="159.08" y="134.92" width="4.45" height="2.45" fill="#FF8000"/>
<rect x="159.08" y="132.47" width="4.45" height="2.45" fill="#FF8800"/>
<rect x="159.08" y="130.02" width="4.45" height="2.45" fill="#FF8000"/>
<rect x="159.08" y="127.57" width="4.45" height="2.45" fill="#FF7000"/>
<rect x="159.08" y="125.12" width="4.45" height="2.45" fill="#FF6000"/>
<rect x="159.08" y="122.67" width="4.45" height="2.45" fill="#FF5800"/>
<rect x="159.08" y="120.22" width="4.45" height="2.45" fill="#FF4800"/>
<rect x="159.08" y="117.77" width="4.45" height="2.45" fill="#FF4000"/>
<rect x="159.08" y="115.32" width="4.45" height="2.45" fill="#FF3000"/>
<rect x="159.08" y="112.87" width="4.45" height="2.45" fill="#FF2800"/>
<rect x="159.08" y="110.42" width="4.45" height="2.45" fill="#FF2000"/>
<rect x="159.08" y="107.97" width="4.45" height="2.45" fill="#FF1800"/>
<rect x="159.08" y="105.52" width="4.45" height="2.45" fill="#FF1000"/>
<rect x="159.08" y="103.07" width="4.45" height="2.45" fill="#FF0800"/>
<rect x="159.08" y="95.72" width="4.45" height="2.45" fill="#FF0000"/>
<rect x="163.53" y="144.72" width="4.45" height="2.45" fill="#FF1800"/>
<rect x="163.53" y="142.27" width="4.45" height="2.45" fill="#FF3800"/>
<rect x="163.53" y="139.82" width="4.45" height="2.45" fill="#FF4800"/>
<rect x="163.53" y="137.38" width="4.45" height="2.45" fill="#FF5800"/>
<rect x="163.53" y="134.92" width="4.45" height="2.45" fill="#FF7000"/>
<rect x="163.53" y="132.47" width="4.45" height="2.45" fill="#FF7800"/>
<rect x="163.53" y="130.02" width="4.45" height="2.45" fill="#FF8000"/>
<rect x="163.53" y="127.57" width="4.45" height="2.45" fill="#FF7800"/>
<rect x="163.53" y="125.12" width="4.45" height="2.45" fill="#FF6800"/>
<rect x="163.53" y="122.67" width="4.45" height="2.45" fill="#FF6000"/>
<rect x="163.53" y="120.22" width="4.45" height="2.45" fill="#FF5000"/>
<rect x="163.53" y="117.77" width="4.45" height="2.45" fill="#FF4800"/>
<rect x="163.53" y="115.32" width="4.45" height="2.45" fill="#FF3800"/>
<rect x="163.53" y="112.87" width="4.45" height="2.45" fill="#FF3000"/>
<rect x="163.53" y="110.42" width="4.45" height="2.45" fill="#FF2800"/>
<rect x="163.53" y="107.97" width="4.45" height="2.45" fill="#FF2000"/>
<rect x="163.53" y="105.52" width="4.45" height="2.45" fill="#FF1000"/>
<rect x="163.53" y="100.62" width="4.45" height="4.9" fill="#FF0800"/>
<rect x="167.97" y="149.62" width="4.45" height="2.45" fill="#FF0000"/>
<rect x="167.97" y="142.27" width="4.45" height="2.45" fill="#FF1800"/>
<rect x="167.97" y="139.82" width="4.45" height="2.45" fill="#FF3000"/>
<rect x="167.97" y="137.38" width="4.45" height="2.45" fill="#FF4800"/>
<rect x="167.97" y="134.92" width="4.45" height="2.45" fill="#FF5800"/>
<rect x="167.97" y="132.47" width="4.45" height="2.45" fill="#FF6800"/>
<rect x="167.97" y="130.02" width="4.45" height="2.45" fill="#FF7800"/>
<rect x="167.97" y="127.57" width="4.45" height="2.45" fill="#FF8000"/>
<rect x="167.97" y="125.12" width="4.45" height="2.45" fill="#FF7000"/>
<rect x="167.97" y="122.67" width="4.45" height="2.45" fill="#FF6800"/>
<rect x="167.97" y="120.22" width="4.45" height="2.45" fill="#FF5800"/>
<rect x="167.97" y="117.77" width="4.45" height="2.45" fill="#FF5000"/>
<rect x="167.97" y="115.32" width="4.45" height="2.45" fill="#FF4800"/>
<rect x="167.97" y="112.87" width="4.45" height="2.45" fill="#FF3800"/>
<rect x="167.97" y="110.42" width="4.45" height="2.45" fill="#FF3000"/>
<rect x="167.97" y="107.97" width="4.45" height="2.45" fill="#FF2800"/>
<rect x="167.97" y="105.52" width="4.45" height="2.45" fill="#FF2000"/>
<rect x="167.97" y="103.07" width="4.45" height="2.45" fill="#FF1800"/>
<rect x="167.97" y="100.62" width="4.45" height="2.45" fill="#FF1000"/>
<rect x="167.97" y="95.72" width="4.45" height="4.9" fill="#FF0800"/>
<rect x="172.43" y="142.27" width="4.45" height="2.45" fill="#FF0000"/>
<rect x="172.43" y="137.38" width="4.45" height="2.45" fill="#FF1800"/>
<rect x="172.43" y="134.92" width="4.45" height="2.45" fill="#FF3800"/>
<rect x="172.43" y="132.47" width="4.45" height="2.45" fill="#FF4800"/>
<rect x="172.43" y="130.02" width="4.45" height="2.45" fill="#FF6000"/>
<rect x="172.43" y="127.57" width="4.45" height="2.45" fill="#FF7000"/>
<rect x="172.43" y="125.12" width="4.45" height="2.45" fill="#FF7800"/>
<rect x="172.43" y="122.67" width="4.45" height="2.45" fill="#FF6800"/>
<rect x="172.43" y="120.22" width="4.45" height="2.45" fill="#FF6000"/>
<rect x="172.43" y="117.77" width="4.45" height="2.45" fill="#FF5800"/>
<rect x="172.43" y="115.32" width="4.45" height="2.45" fill="#FF5000"/>
<rect x="172.43" y="112.87" width="4.45" height="2.45" fill="#FF4800"/>
<rect x="172.43" y="110.42" width="4.45" height="2.45" fill="#FF4000"/>
<rect x="172.43" y="107.97" width="4.45" height="2.45" fill="#FF3800"/>
<rect x="172.43" y="105.52" width="4.45" height="2.45" fill="#FF3000"/>
<rect x="172.43" y="103.07" width="4.45" height="2.45" fill="#FF2800"/>
<rect x="172.43" y="100.62" width="4.45" height="2.45" fill="#FF2000"/>
<rect x="172.43" y="98.17" width="4.45" height="2.45" fill="#FF1800"/>
<rect x="172.43" y="93.27" width="4.45" height="4.9" fill="#FF1000"/>
<rect x="172.43" y="90.82" width="4.45" height="2.45" fill="#FF0800"/>
<rect x="172.43" y="88.37" width="4.45" height="2.45" fill="#FF0000"/>
<rect x="176.88" y="137.38" width="4.45" height="2.45" fill="#FF1800"/>
<rect x="176.88" y="134.92" width="4.45" height="2.45" fill="#FF3000"/>
<rect x="176.88" y="132.47" width="4.45" height="2.45" fill="#FF4000"/>
<rect x="176.88" y="130.02" width="4.45" height="2.45" fill="#FF5000"/>
<rect x="176.88" y="127.57" width="4.45" height="2.45" fill="#FF5800"/>
<rect x="176.88" y="125.12" width="4.45" height="2.45" fill="#FF6800"/>
<rect x="176.88" y="122.67" width="4.45" height="2.45" fill="#FF7000"/>
<rect x="176.88" y="120.22" width="4.45" height="2.45" fill="#FF6800"/>
<rect x="176.88" y="117.77" width="4.45" height="2.45" fill="#FF5800"/>
<rect x="176.88" y="115.32" width="4.45" height="2.45" fill="#FF5000"/>
<rect x="176.88" y="112.87" width="4.45" height="2.45" fill="#FF4800"/>
<rect x="176.88" y="110.42" width="4.45" height="2.45" fill="#FF4000"/>
<rect x="176.88" y="107.97" width="4.45" height="2.45" fill="#FF3800"/>
<rect x="176.88" y="105.52" width="4.45" height="2.45" fill="#FF3000"/>
<rect x="176.88" y="103.07" width="4.45" height="2.45" fill="#FF2800"/>
<rect x="176.88" y="100.62" width="4.45" height="2.45" fill="#FF2000"/>
<rect x="176.88" y="98.17" width="4.45" height="2.45" fill="#FF1800"/>
<rect x="176.88" y="93.27" width="4.45" height="4.9" fill="#FF1000"/>
<rect x="176.88" y="90.82" width="4.45" height="2.45" fill="#FF0800"/>
<rect x="176.88" y="88.37" width="4.45" height="2.45" fill="#FF0000"/>
<rect x="181.33" y="132.47" width="4.45" height="2.45" fill="#FF1800"/>
<rect x="181.33" y="130.02" width="4.45" height="2.45" fill="#FF3000"/>
<rect x="181.33" y="127.57" width="4.45" height="2.45" fill="#FF4000"/>
<rect x="181.33" y="125.12" width="4.45" height="2.45" fill="#FF5000"/>
<rect x="181.33" y="122.67" width="4.45" height="2.45" fill="#FF6000"/>
<rect x="181.33" y="120.22" width="4.45" height="2.45" fill="#FF6800"/>
<rect x="181.33" y="117.77" width="4.45" height="2.45" fill="#FF6000"/>
<rect x="181.33" y="115.32" width="4.45" height="2.45" fill="#FF5800"/>
<rect x="181.33" y="112.87" width="4.45" height="2.45" fill="#FF4800"/>
<rect x="181.33" y="110.42" width="4.45" height="2.45" fill="#FF4000"/>
<rect x="181.33" y="107.97" width="4.45" height="2.45" fill="#FF3800"/>
<rect x="181.33" y="105.52" width="4.45" height="2.45" fill="#FF3000"/>
<rect x="181.33" y="103.07" width="4.45" height="2.45" fill="#FF2800"/>
<rect x="181.33" y="100.62" width="4.45" height="2.45" fill="#FF2000"/>
<rect x="181.33" y="95.72" width="4.45" height="4.9" fill="#FF1800"/>
<rect x="181.33" y="93.27" width="4.45" height="2.45" fill="#FF1000"/>
<rect x="181.33" y="90.82" width="4.45" height="2.45" fill="#FF0800"/>
<rect x="181.33" y="88.37" width="4.45" height="2.45" fill="#FF0000"/>
<rect x="185.78" y="134.92" width="4.45" height="2.45" fill="#FF1800"/>
<rect x="185.78" y="132.47" width="4.45" height="2.45" fill="#FF2800"/>
<rect x="185.78" y="130.02" width="4.45" height="2.45" fill="#FF3800"/>
<rect x="185.78" y="127.57" width="4.45" height="2.45" fill="#FF4000"/>
<rect x="185.78" y="125.12" width="4.45" height="2.45" fill="#FF4800"/>
<rect x="185.78" y="122.67" width="4.45" height="2.45" fill="#FF5000"/>
<rect x="185.78" y="120.22" width="4.45" height="2.45" fill="#FF5800"/>
<rect x="185.78" y="117.77" width="4.45" height="2.45" fill="#FF6000"/>
<rect x="185.78" y="115.32" width="4.45" height="2.45" fill="#FF5800"/>
<rect x="185.78" y="112.87" width="4.45" height="2.45" fill="#FF5000"/>
<rect x="185.78" y="107.97" width="4.45" height="4.9" fill="#FF4800"/>
<rect x="185.78" y="105.52" width="4.45" height="2.45" fill="#FF4000"/>
<rect x="185.78" y="103.07" width="4.45" height="2.45" fill="#FF3800"/>
<rect x="185.78" y="98.17" width="4.45" height="4.9" fill="#FF3000"/>
<rect x="185.78" y="95.72" width="4.45" height="2.45" fill="#FF2800"/>
<rect x="185.78" y="90.82" width="4.45" height="4.9" fill="#FF2000"/>
<rect x="185.78" y="88.37" width="4.45" height="2.45" fill="#FF1800"/>
<rect x="185.78" y="83.47" width="4.45" height="4.9" fill="#FF1000"/>
<rect x="185.78" y="81.02" width="4.45" height="2.45" fill="#FF0800"/>
<rect x="185.78" y="76.12" width="4.45" height="2.45" fill="#FF0000"/>
<rect x="190.23" y="132.47" width="4.45" height="2.45" fill="#FF1800"/>
<rect x="190.23" y="130.02" width="4.45" height="2.45" fill="#FF2800"/>
<rect x="190.23" y="122.67" width="4.45" height="2.45" fill="#FF4800"/>
<rect x="190.23" y="120.22" width="4.45" height="2.45" fill="#FF5000"/>
<rect x="190.23" y="115.32" width="4.45" height="4.9" fill="#FF5800"/>
<rect x="190.23" y="112.87" width="4.45" height="2.45" fill="#FF5000"/>
<rect x="190.23" y="107.97" width="4.45" height="4.9" fill="#FF4800"/>
<rect x="190.23" y="105.52" width="4.45" height="2.45" fill="#FF4000"/>
<rect x="190.23" y="103.07" width="4.45" height="2.45" fill="#FF3800"/>
<rect x="190.23" y="100.62" width="4.45" height="2.45" fill="#FF3000"/>
<rect x="190.23" y="95.72" width="4.45" height="4.9" fill="#FF2800"/>
<rect x="190.23" y="93.27" width="4.45" height="2.45" fill="#FF2000"/>
<rect x="190.23" y="90.82" width="4.45" height="2.45" fill="#FF1800"/>
<rect x="190.23" y="85.92" width="4.45" height="4.9" fill="#FF1000"/>
<rect x="190.23" y="81.02" width="4.45" height="4.9" fill="#FF0800"/>
<rect x="190.23" y="78.57" width="4.45" height="2.45" fill="#FF0000"/>
<rect x="194.68" y="132.47" width="4.45" height="2.45" fill="#FF0000"/>
<rect x="194.68" y="125.12" width="4.45" height="2.45" fill="#FF1800"/>
<rect x="194.68" y="122.67" width="4.45" height="2.45" fill="#FF2800"/>
<rect x="194.68" y="120.22" width="4.45" height="2.45" fill="#FF3800"/>
<rect x="194.68" y="117.77" width="4.45" height="2.45" fill="#FF4000"/>
<rect x="194.68" y="112.87" width="4.45" height="4.9" fill="#FF5000"/>
<rect x="194.68" y="107.97" width="4.45" height="4.9" fill="#FF4800"/>
<rect x="194.68" y="105.52" width="4.45" height="2.45" fill="#FF4000"/>
<rect x="194.68" y="103.07" width="4.45" height="2.45" fill="#FF3800"/>
<rect x="194.68" y="100.62" width="4.45" height="2.45" fill="#FF3000"/>
<rect x="194.68" y="98.17" width="4.45" height="2.45" fill="#FF2800"/>
<rect x="194.68" y="95.72" width="4.45" height="2.45" fill="#FF2000"/>
<rect x="194.68" y="90.82" width="4.45" height="4.9" fill="#FF1800"/>
<rect x="194.68" y="88.37" width="4.45" height="2.45" fill="#FF1000"/>
<rect x="194.68" y="83.47" width="4.45" height="4.9" fill="#FF0800"/>
<rect x="194.68" y="81.02" width="4.45" height="2.45" fill="#FF0000"/>
<rect x="199.12" y="122.67" width="4.45" height="2.45" fill="#FF1800"/>
<rect x="199.12" y="120.22" width="4.45" height="2.45" fill="#FF2800"/>
<rect x="199.12" y="117.77" width="4.45" height="2.45" fill="#FF3800"/>
<rect x="199.12" y="115.32" width="4.45" height="2.45" fill="#FF4000"/>
<rect x="199.12" y="112.87" width="4.45" height="2.45" fill="#FF4800"/>
<rect x="199.12" y="110.42" width="4.45" height="2.45" fill="#FF5000"/>
<rect x="199.12" y="107.97" width="4.45" height="2.45" fill="#FF4800"/>
<rect x="199.12" y="105.52" width="4.45" height="2.45" fill="#FF4000"/>
<rect x="199.12" y="103.07" width="4.45" height="2.45" fill="#FF3800"/>
<rect x="199.12" y="100.62" width="4.45" height="2.45" fill="#FF3000"/>
<rect x="199.12" y="98.17" width="4.45" height="2.45" fill="#FF2800"/>
<rect x="199.12" y="93.27" width="4.45" height="4.9" fill="#FF2000"/>
<rect x="199.12" y="90.82" width="4.45" height="2.45" fill="#FF1800"/>
<rect x="199.12" y="88.37" width="4.45" height="2.45" fill="#FF1000"/>
<rect x="199.12" y="85.92" width="4.45" height="2.45" fill="#FF0800"/>
<rect x="199.12" y="81.02" width="4.45" height="2.45" fill="#FF0000"/>
<rect x="203.58" y="120.22" width="4.45" height="2.45" fill="#FF1800"/>
<rect x="203.58" y="117.77" width="4.45" height="2.45" fill="#FF2800"/>
<rect x="203.58" y="115.32" width="4.45" height="2.45" fill="#FF3000"/>
<rect x="203.58" y="112.87" width="4.45" height="2.45" fill="#FF3800"/>
<rect x="203.58" y="110.42" width="4.45" height="2.45" fill="#FF4000"/>
<rect x="203.58" y="107.97" width="4.45" height="2.45" fill="#FF4800"/>
<rect x="203.58" y="105.52" width="4.45" height="2.45" fill="#FF4000"/>
<rect x="203.58" y="103.07" width="4.45" height="2.45" fill="#FF3800"/>
<rect x="203.58" y="100.62" width="4.45" height="2.45" fill="#FF3000"/>
<rect x="203.58" y="98.17" width="4.45" height="2.45" fill="#FF2800"/>
<rect x="203.58" y="93.27" width="4.45" height="4.9" fill="#FF2000"/>
<rect x="203.58" y="90.82" width="4.45" height="2.45" fill="#FF1800"/>
<rect x="203.58" y="88.37" width="4.45" height="2.45" fill="#FF1000"/>
<rect x="203.58" y="83.47" width="4.45" height="2.45" fill="#FF0800"/>
<rect x="203.58" y="81.02" width="4.45" height="2.45" fill="#FF0000"/>
<rect x="208.03" y="112.87" width="4.45" height="4.9" fill="#FF2000"/>
<rect x="208.03" y="98.17" width="4.45" height="14.7" fill="#FF4000"/>
<rect x="208.03" y="85.92" width="4.45" height="12.25" fill="#FF2000"/>
<rect x="208.03" y="81.02" width="4.45" height="4.9" fill="#FF0000"/>
<rect x="208.03" y="73.67" width="4.45" height="4.9" fill="#FF0000"/>
<rect x="212.48" y="112.87" width="4.45" height="4.9" fill="#FF2000"/>
<rect x="212.48" y="98.17" width="4.45" height="14.7" fill="#FF4000"/>
<rect x="212.48" y="83.47" width="4.45" height="14.7" fill="#FF2000"/>
<rect x="212.48" y="73.67" width="4.45" height="9.8" fill="#FF0000"/>
<rect x="216.93" y="132.47" width="4.45" height="2.45" fill="#FF0000"/>
<rect x="216.93" y="107.97" width="4.45" height="4.9" fill="#FF2000"/>
<rect x="216.93" y="100.62" width="4.45" height="7.35" fill="#FF4000"/>
<rect x="216.93" y="85.92" width="4.45" height="14.7" fill="#FF2000"/>
<rect x="216.93" y="73.67" width="4.45" height="12.25" fill="#FF0000"/>
<rect x="216.93" y="68.77" width="4.45" height="2.45" fill="#FF0000"/>
<rect x="221.38" y="88.37" width="4.45" height="19.6" fill="#FF2000"/>
<rect x="221.38" y="71.22" width="4.45" height="17.15" fill="#FF0000"/>
<rect x="221.38" y="63.87" width="4.45" height="2.45" fill="#FF0000"/>
<rect x="225.83" y="107.97" width="4.45" height="2.45" fill="#FF0000"/>
<rect x="225.83" y="100.62" width="4.45" height="4.9" fill="#FF0000"/>
<rect x="225.83" y="88.37" width="4.45" height="12.25" fill="#FF2000"/>
<rect x="225.83" y="83.47" width="4.45" height="4.9" fill="#FF0000"/>
<rect x="225.83" y="78.57" width="4.45" height="2.45" fill="#FF0000"/>
<rect x="225.83" y="66.32" width="4.45" height="2.45" fill="#FF0000"/>
<rect x="230.28" y="93.27" width="4.45" height="7.35" fill="#FF0000"/>
<rect x="230.28" y="85.92" width="4.45" height="2.45" fill="#FF0000"/>
<rect x="230.28" y="68.77" width="4.45" height="12.25" fill="#FF0000"/>
<rect x="234.73" y="66.32" width="4.45" height="36.75" fill="#FF0000"/>
<rect x="234.73" y="61.42" width="4.45" height="2.45" fill="#FF0000"/>
<rect x="239.18" y="100.62" width="4.45" height="2.45" fill="#FF0000"/>
<rect x="239.18" y="81.02" width="4.45" height="12.25" fill="#FF0000"/>
<rect x="239.18" y="76.12" width="4.45" height="2.45" fill="#FF0000"/>
<rect x="239.18" y="71.22" width="4.45" height="2.45" fill="#FF2000"/>
<rect x="243.62" y="93.27" width="4.45" height="4.9" fill="#FF0000"/>
<rect x="243.62" y="78.57" width="4.45" height="9.8" fill="#FF0000"/>
<rect x="243.62" y="73.67" width="4.45" height="2.45" fill="#FF0000"/>
<rect x="243.62" y="68.77" width="4.45" height="2.45" fill="#FF0000"/>
<rect x="248.08" y="63.87" width="4.45" height="24.5" fill="#FF0000"/>
<rect x="248.08" y="54.07" width="4.45" height="2.45" fill="#FF0000"/>
<rect x="252.53" y="83.47" width="4.45" height="2.45" fill="#FF0000"/>
<rect x="252.53" y="73.67" width="4.45" height="7.35" fill="#FF0000"/>
<rect x="256.98" y="68.77" width="4.45" height="9.8" fill="#FF0000"/>
<rect x="256.98" y="61.42" width="4.45" height="4.9" fill="#FF0000"/>
<rect x="261.43" y="85.92" width="4.45" height="2.45" fill="#FF0000"/>
<rect x="261.43" y="68.77" width="4.45" height="12.25" fill="#FF0000"/>
<rect x="261.43" y="56.52" width="4.45" height="4.9" fill="#FF0000"/>
<rect x="265.88" y="73.67" width="4.45" height="2.45" fill="#FF0000"/>
<rect x="265.88" y="63.87" width="4.45" height="4.9" fill="#FF0000"/>
<rect x="270.32" y="73.67" width="4.45" height="2.45" fill="#FF0000"/>
<rect x="270.32" y="68.77" width="4.45" height="2.45" fill="#FF0000"/>
<rect x="270.32" y="51.62" width="4.45" height="2.45" fill="#FF0000"/>
<rect x="270.32" y="39.37" width="4.45" height="4.9" fill="#FF0000"/>
<rect x="274.77" y="61.42" width="4.45" height="7.35" fill="#FF0000"/>
<rect x="279.23" y="54.07" width="4.45" height="2.45" fill="#FF0000"/>
<rect x="279.23" y="34.47" width="4.45" height="4.9" fill="#FF0000"/>
<rect x="283.68" y="76.12" width="4.45" height="2.45" fill="#FF0000"/>
<rect x="283.68" y="54.07" width="4.45" height="2.45" fill="#FF0000"/>
<rect x="288.12" y="66.32" width="4.45" height="2.45" fill="#FF0000"/>
<rect x="288.12" y="58.97" width="4.45" height="2.45" fill="#FF0000"/>
<rect x="292.57" y="56.52" width="4.45" height="2.45" fill="#FF0000"/>
<rect x="292.57" y="49.17" width="4.45" height="2.45" fill="#FF0000"/>
<rect x="297.02" y="51.62" width="4.45" height="2.45" fill="#FF0000"/>
</g>
<g fill="#FF0000" shape-rendering="crispEdges"><rect x="301.5" y="43.7" width="20" height="4.9"/><rect x="301.5" y="54.1" width="20" height="2.4"/><rect x="321.5" y="37.8" width="35.5" height="6.3"/></g>
<!-- grid -->
<g stroke="#d3d3d3" stroke-width="1" stroke-dasharray="0.9 1.6" stroke-opacity="0.55" fill="none">
<path d="M54.5 193.7V34M99 193.7V34M143.5 193.7V34M188 193.7V34M232.5 193.7V34M277 193.7V34M321.5 193.7V34"/>
<path d="M52.3 192.5H357M52.3 168H357M52.3 143.5H357M52.3 119H357M52.3 94.5H357M52.3 70H357M52.3 45.5H357"/>
</g>
<!-- diagonal -->
<path d="M54.5 192.5L321.5 45.5" stroke="#222" stroke-width="0.8" stroke-dasharray="2.8 2.45" fill="none"/>
<!-- legend -->
<defs><linearGradient id="hg" x1="0" x2="1" y1="0" y2="0">
<stop offset="0" stop-color="#FF0000"/><stop offset="0.25" stop-color="#FF5500"/><stop offset="0.5" stop-color="#FFAA00"/><stop offset="0.75" stop-color="#FFFF00"/><stop offset="0.88" stop-color="#FFFF80"/><stop offset="1" stop-color="#FFFFF0"/>
</linearGradient></defs>
<rect x="245.2" y="168.4" width="75.8" height="3.3" fill="url(#hg)"/>
<path d="M248.4 171.7V177.4M260.4 171.7V177.4M272.5 171.7V177.4M284.5 171.7V177.4M296.5 171.7V177.4M308.5 171.7V177.4M320.5 171.7V177.4" stroke="#333" stroke-width="1" fill="none"/>
<g class="lg" text-anchor="middle">
<text x="248.6" y="193">10^0</text><text x="272.6" y="193">10^2</text><text x="296.6" y="193">10^4</text><text x="320.6" y="193">10^6</text>
</g>
<!-- x tick labels -->
<g class="b" text-anchor="middle">
<text x="54.5" y="215.6">0.0</text><text x="99" y="215.6">0.1</text><text x="143.5" y="215.6">0.2</text><text x="188" y="215.6">0.3</text><text x="232.5" y="215.6">0.4</text><text x="277" y="215.6">0.5</text><text x="321.5" y="215.6">0.6</text>
</g>
<!-- y tick labels -->
<g class="b" text-anchor="middle">
<text transform="translate(38.6 192.5) rotate(-90)">0.0</text><text transform="translate(38.6 168) rotate(-90)">0.1</text><text transform="translate(38.6 143.5) rotate(-90)">0.2</text><text transform="translate(38.6 119) rotate(-90)">0.3</text><text transform="translate(38.6 94.5) rotate(-90)">0.4</text><text transform="translate(38.6 70) rotate(-90)">0.5</text><text transform="translate(38.6 45.5) rotate(-90)">0.6</text>
</g>
<!-- title -->
<g class="t">
<text x="90" y="13.3" textLength="134.2" lengthAdjust="spacingAndGlyphs">Evaluation of the equation</text>
<text x="227.6" y="13.3">Pr</text>
<text class="p" x="238.9" y="13.7">(</text>
<text x="243.9" y="13.3">X</text>
<text x="254.4" y="13.3">&gt;</text>
<text x="263.5" y="13.3">x</text>
<text class="p" x="268.7" y="13.7">)</text>
<text x="277.5" y="13.3">=</text>
<text x="287.6" y="13.3">f</text>
<text class="s" x="290.3" y="15.6">w</text>
<text x="295.9" y="13.3">e</text>
<text class="s" x="302.6" y="7.7">−</text><text class="s" x="307.1" y="7.7">x</text><text x="311.2" y="9.3" style="font-size:10.5px">/</text><text class="s" x="315.2" y="7.7">μ</text>
</g>
<!-- x label -->
<g class="b">
<text x="128.3" y="236.9" textLength="92.8" lengthAdjust="spacingAndGlyphs">Observed frequency:</text>
<text transform="translate(223.8 237.2) scale(1.15 1)" style="font-size:12.5px">∑</text>
<text x="234.2" y="236.9">H</text>
<text x="241.6" y="237.3" style="font-size:11.5px">(</text>
<text x="245.3" y="236.9">X</text>
<text x="252.2" y="236.9">−</text>
<text x="258.2" y="236.9">x</text>
<text x="263.3" y="237.3" style="font-size:11.5px">)</text>
<text x="269.7" y="237.6" style="font-size:13px">/</text>
<text x="275.0" y="236.9">n</text>
<text x="133.1" y="252.5" textLength="142.5" lengthAdjust="spacingAndGlyphs" xml:space="preserve">Correlation= 0.985  N= 2305255</text>
</g>
<!-- y label -->
<g class="b" transform="translate(11.2 202) rotate(-90)">
<text x="0" y="0" textLength="95.6" lengthAdjust="spacingAndGlyphs">Estimated probability:</text>
<g style="font-size:10.5px">
<text x="98.8" y="0">Pr</text>
<text x="108.8" y="0.5" style="font-size:12.6px">(</text>
<text x="112.8" y="0">X</text>
<text x="122" y="0">&gt;</text>
<text x="129.3" y="0">x</text>
<text x="134.6" y="0.5" style="font-size:12.6px">)</text>
<text x="142.1" y="0">=</text>
<text x="150.5" y="0">f</text>
<text x="154.3" y="2.1" style="font-size:7.6px">w</text>
<text x="159.1" y="0">e</text>
<text x="165.5" y="-5" style="font-size:7.6px">−</text><text x="169.3" y="-5" style="font-size:7.6px">x</text><text x="172.8" y="-3.7" style="font-size:9.5px">/</text><text x="175.8" y="-5" style="font-size:7.6px">μ</text>
</g>
</g>
</svg>
</body></html>
